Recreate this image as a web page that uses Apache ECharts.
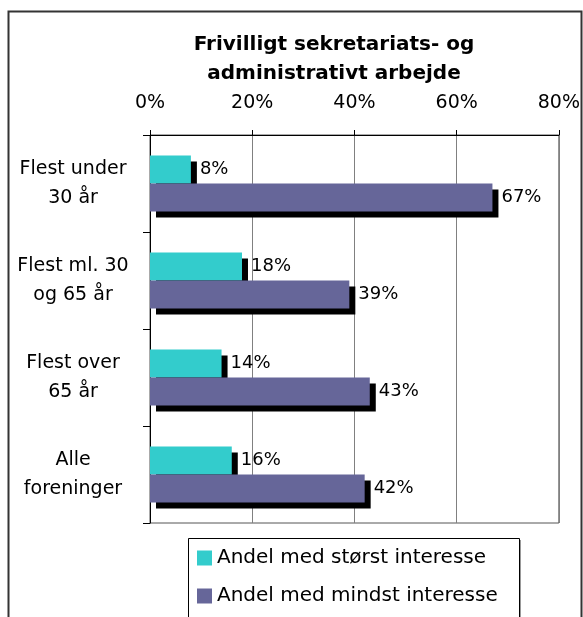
<!DOCTYPE html>
<html>
<head>
<meta charset="utf-8">
<script src="https://cdn.jsdelivr.net/npm/echarts@6/dist/echarts.min.js"></script>
<style>
  html, body { margin: 0; padding: 0; background: #fff; }
  #chart { width: 583px; height: 617px; }
</style>
</head>
<body>
<div id="chart"></div>
<script>
// data
const categories = ['Flest under\n30 år', 'Flest ml. 30\nog 65 år', 'Flest over\n65 år', 'Alle\nforeninger'];
const storst = [8, 18, 14, 16];
const mindst = [67, 39, 43, 42];
const seriesNames = ['Andel med størst interesse', 'Andel med mindst interesse'];
const xTicks = [0, 20, 40, 60, 80];

const FONT = '"DejaVu Sans", Verdana, sans-serif';

var chart = echarts.init(document.getElementById('chart'));

// label + shadow for both bar series
function barSeries(name, data, color) {
  return {
    name: name,
    type: 'bar',
    data: data,
    barWidth: 28,
    barGap: '0%',
    itemStyle: {
      color: color,
      shadowColor: '#000',
      shadowOffsetX: 6,
      shadowOffsetY: 6,
      shadowBlur: 0
    },
    label: {
      show: true,
      position: 'right',
      distance: 9,
      formatter: '{c}%',
      color: '#000',
      fontFamily: FONT,
      fontSize: 18
    },
    emphasis: { disabled: true }
  };
}

// one legend per row, the box round them is a graphic
function legendRow(name, top) {
  return {
    left: 197,
    top: top,
    data: [name],
    icon: 'rect',
    itemWidth: 15,
    itemHeight: 15,
    padding: 0,
    textStyle: { fontFamily: FONT, fontSize: 20, color: '#000' }
  };
}

chart.setOption({
  animation: false,
  textStyle: { fontFamily: FONT },
  graphic: [
    {
      type: 'rect',
      shape: { x: 8.5, y: 11.5, width: 573, height: 700 },
      style: { fill: 'none', stroke: '#333', lineWidth: 2 },
      silent: true
    },
    {
      type: 'rect',
      shape: { x: 190, y: 540, width: 331, height: 120 },
      style: { fill: '#999', stroke: null },
      silent: true
    },
    {
      type: 'rect',
      shape: { x: 188.5, y: 538.5, width: 331, height: 120 },
      style: { fill: '#fff', stroke: '#000', lineWidth: 1 },
      silent: true
    },
    {
      type: 'text',
      x: 334,
      y: 30,
      style: {
        text: 'Frivilligt sekretariats- og\nadministrativt arbejde',
        font: 'bold 20px ' + FONT,
        fill: '#000',
        textAlign: 'center',
        textVerticalAlign: 'top',
        lineHeight: 29
      },
      silent: true
    }
  ],
  grid: {
    left: 150,
    right: 23,
    top: 135,
    bottom: 94,
    show: true,
    borderColor: '#555',
    borderWidth: 1
  },
  legend: [
    legendRow(seriesNames[0], 548),
    legendRow(seriesNames[1], 586)
  ],
  xAxis: {
    type: 'value',
    position: 'top',
    min: xTicks[0],
    max: xTicks[xTicks.length - 1],
    interval: 20,
    axisLine: { show: true, lineStyle: { color: '#000', width: 1 } },
    axisTick: { show: true, length: 5, lineStyle: { color: '#000' } },
    axisLabel: {
      formatter: '{value}%',
      fontFamily: FONT,
      fontSize: 19,
      color: '#000',
      margin: 22
    },
    splitLine: { show: true, lineStyle: { color: '#808080', width: 1 } }
  },
  yAxis: {
    type: 'category',
    inverse: true,
    data: categories,
    axisLine: { show: true, lineStyle: { color: '#000', width: 1 } },
    axisTick: { show: true, length: 7, lineStyle: { color: '#000' } },
    axisLabel: {
      align: 'center',
      margin: 77,
      fontFamily: FONT,
      fontSize: 19,
      lineHeight: 29,
      color: '#000'
    }
  },
  series: [
    barSeries(seriesNames[0], storst, '#33CCCC'),
    barSeries(seriesNames[1], mindst, '#666699')
  ]
});
</script>
</body>
</html>
